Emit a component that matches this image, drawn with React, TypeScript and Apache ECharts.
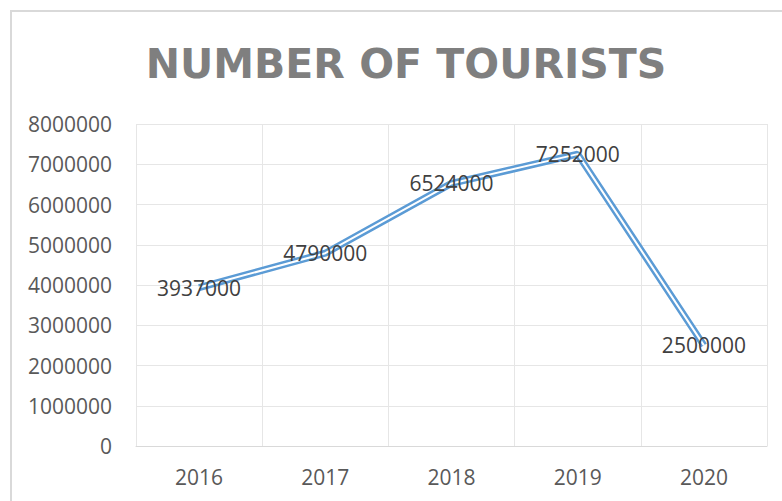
import React, { useEffect, useRef } from "react";
import * as echarts from "echarts";

const years = ["2016", "2017", "2018", "2019", "2020"];
const tourists = [3937000, 4790000, 6524000, 7252000, 2500000];
const titleText = "NUMBER OF TOURISTS";

export default function App() {
  const ref = useRef<HTMLDivElement>(null);
  useEffect(() => {
    if (!ref.current) return;
    const chart = echarts.init(ref.current, undefined, { renderer: "svg" });
    chart.setOption({
      animation: false,
      backgroundColor: "#ffffff",
      title: {
        text: titleText,
        left: 401,
        textAlign: "center",
        top: 38,
        textStyle: {
          fontFamily: "DejaVu Sans",
          fontWeight: "bold",
          fontSize: 41,
          color: "#7f7f7f",
        },
      },
      graphic: [
        {
          type: "rect",
          shape: { x: 11, y: 11, width: 900, height: 700 },
          style: { fill: "none", stroke: "#d9d9d9", lineWidth: 2 },
          silent: true,
        },
      ],
      grid: { left: 136, right: 15, top: 124, bottom: 55, containLabel: false },
      xAxis: {
        type: "category",
        data: years,
        boundaryGap: true,
        axisLine: { show: true, lineStyle: { color: "#d9d9d9", width: 1 } },
        axisTick: { show: false },
        splitLine: { show: true, lineStyle: { color: "#e6e6e6", width: 1 } },
        axisLabel: {
          margin: 20,
          fontFamily: "Open Sans",
          fontSize: 21,
          color: "#595959",
        },
      },
      yAxis: {
        type: "value",
        min: 0,
        max: 8000000,
        interval: 1000000,
        axisLine: { show: false },
        axisTick: { show: false },
        splitLine: { show: true, lineStyle: { color: "#e6e6e6", width: 1 } },
        axisLabel: {
          margin: 24,
          fontFamily: "Open Sans",
          fontSize: 21,
          color: "#595959",
          formatter: (v: number) => String(v),
        },
      },
      series: [
        {
          type: "line",
          data: tourists,
          symbol: "none",
          z: 2,
          lineStyle: { color: "#5b9bd5", width: 7 },
          label: { show: false },
        },
        {
          type: "line",
          data: tourists,
          symbol: "circle",
          symbolSize: 0,
          showSymbol: true,
          z: 3,
          itemStyle: { color: "#ffffff" },
          lineStyle: { color: "#ffffff", width: 2 },
          label: {
            show: true,
            position: "inside",
            fontFamily: "Open Sans",
            fontSize: 21,
            color: "#404040",
            formatter: (p: any) => String(p.value),
          },
        },
      ],
    });
    return () => chart.dispose();
  }, []);
  return (
    <div
      ref={ref}
      style={{ position: "fixed", left: 0, top: 0, width: 782, height: 501 }}
    />
  );
}
